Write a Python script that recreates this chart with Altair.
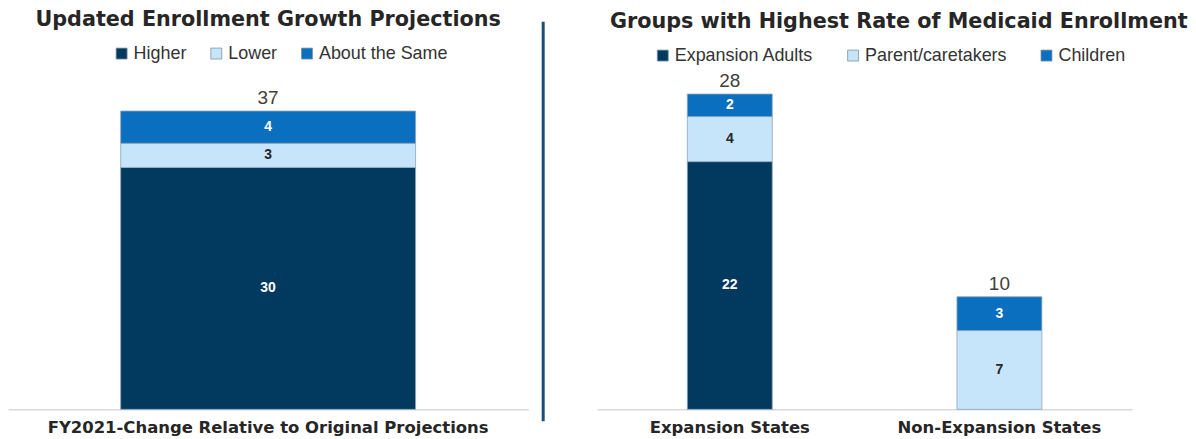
import altair as alt
import pandas as pd

# ---------------- data ----------------
left_title = "Updated Enrollment Growth Projections"
left_categories = ["FY2021-Change Relative to Original Projections"]
left_groups = ["Higher", "Lower", "About the Same"]
left_values = [30, 3, 4]

right_title = "Groups with Highest Rate of Medicaid Enrollment"
right_categories = ["Expansion States", "Non-Expansion States"]
right_groups = ["Expansion Adults", "Parent/caretakers", "Children"]
expansion_values = [22, 4, 2]
non_expansion_values = [0, 7, 3]

colors = ["#023A5F", "#C6E4FA", "#0A6FBF"]

# ---------------- tables ----------------
left_df = pd.DataFrame({
    "cat": left_categories * 3,
    "group": left_groups,
    "ord": [0, 1, 2],
    "value": left_values,
})
rows = []
for cat, vals in zip(right_categories, [expansion_values, non_expansion_values]):
    for i, (g, v) in enumerate(zip(right_groups, vals)):
        rows.append({"cat": cat, "group": g, "ord": i, "value": v})
right_df = pd.DataFrame(rows)
right_df = right_df[right_df["value"] > 0]

PLOT_H = 339
DARK_TEXT = "#262626"


def panel(df, cats, groups, light_group, dmax, width, pad_inner, pad_outer,
          title_params, legend_x, legend_y, col_pad):
    base = alt.Chart(df).transform_stack(
        stack="value", groupby=["cat"], as_=["y0", "y1"],
        sort=[alt.SortField("ord", order="ascending")],
    ).transform_calculate(mid="(datum.y0 + datum.y1) / 2")

    x_enc = alt.X(
        "cat:N", sort=cats,
        scale=alt.Scale(domain=cats, paddingInner=pad_inner, paddingOuter=pad_outer),
        axis=alt.Axis(title=None, labelAngle=0, labelFont="DejaVu Sans",
                      labelFontWeight="bold", labelFontSize=16.5, labelColor=DARK_TEXT,
                      labelLimit=800, ticks=False, domainColor="#d9d9d9",
                      domainWidth=1.5, labelPadding=10, grid=False),
    )
    y_scale = alt.Scale(domain=[0, dmax], nice=False, zero=True)

    bars = base.mark_bar(stroke="#8fa6b9", strokeWidth=0.8).encode(
        x=x_enc,
        y=alt.Y("y0:Q", scale=y_scale, axis=None),
        y2="y1:Q",
        color=alt.Color(
            "group:N", sort=groups,
            scale=alt.Scale(domain=groups, range=colors),
            legend=alt.Legend(
                title=None, orient="none", legendX=legend_x, legendY=legend_y,
                direction="horizontal", symbolType="square", symbolSize=121,
                symbolStrokeColor="#7f93a6", symbolStrokeWidth=0.8,
                labelFont="Liberation Sans", labelFontSize=18, labelColor="#333333",
                columnPadding=col_pad, labelOffset=3,
            ),
        ),
    )

    seg_text = base.mark_text(font="Liberation Sans", fontWeight="bold",
                              fontSize=14, baseline="middle").encode(
        x=alt.X("cat:N", sort=cats),
        y=alt.Y("mid:Q", scale=y_scale),
        text=alt.Text("value:Q"),
        color=alt.condition(f"datum.group == '{light_group}'",
                            alt.value(DARK_TEXT), alt.value("#ffffff")),
    )

    totals = alt.Chart(df).transform_aggregate(
        total="sum(value)", groupby=["cat"]
    ).mark_text(font="Liberation Sans", fontSize=19, color="#404040",
                baseline="bottom", dy=-3).encode(
        x=alt.X("cat:N", sort=cats),
        y=alt.Y("total:Q", scale=y_scale),
        text=alt.Text("total:Q"),
    )

    return alt.layer(bars, seg_text, totals).properties(
        width=width, height=PLOT_H, title=title_params
    )


left = panel(
    left_df, left_categories, left_groups, "Lower", 41.9, 522, 0.0, 0.382,
    alt.TitleParams(left_title, font="DejaVu Sans", fontSize=20.8, fontWeight="bold",
                    color=DARK_TEXT, anchor="middle", frame="group", offset=14),
    105, -27, 20,
)

divider = alt.Chart(pd.DataFrame({"d": [0]})).mark_rule(
    color="#1B4F7A", strokeWidth=3
).encode(x=alt.value(9), y=alt.value(-50), y2=alt.value(351)).properties(
    width=57, height=PLOT_H
)

right = panel(
    right_df, right_categories, right_groups, "Parent/caretakers", 30.0, 537,
    0.685, 0.335,
    alt.TitleParams(right_title, font="DejaVu Sans", fontSize=20.8, fontWeight="bold",
                    color=DARK_TEXT, anchor="start", dx=13, frame="group", offset=14),
    57, -25, 30,
)

chart = alt.hconcat(left, divider, right, spacing=6).resolve_scale(
    color="independent", x="independent", y="independent"
).properties(padding=0, background="white").configure_view(stroke=None)

chart.save("out.html", embed_options={"renderer": "svg", "actions": False})
